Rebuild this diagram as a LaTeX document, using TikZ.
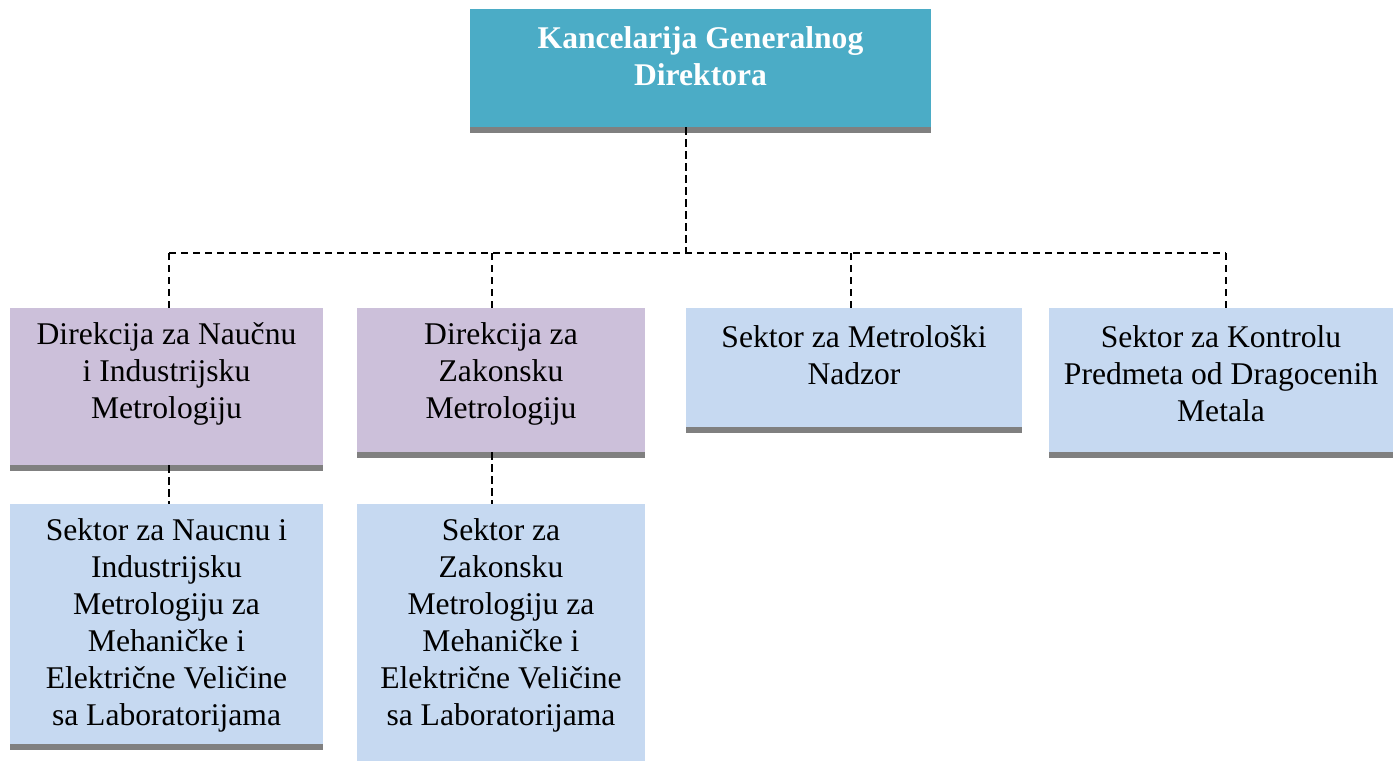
\documentclass[tikz,border=0pt]{standalone}
\usepackage{fontspec}
\setmainfont{Liberation Serif}
\usetikzlibrary{fit,shadows}

\definecolor{teal}{HTML}{4BACC6}
\definecolor{lilac}{HTML}{CCC0DA}
\definecolor{paleblue}{HTML}{C6D9F1}

\tikzset{
    unit/.style={rectangle, inner sep=0pt, draw=none},
    strip/.style={drop shadow={shadow xshift=0pt, shadow yshift=-4.5pt,
        fill=black!50, opacity=1}},
    label text/.style={align=center, inner sep=0pt,
        font=\fontsize{23.7}{27.75}\selectfont},
    link/.style={line width=1.5pt, dash pattern=on 5.5pt off 3.5pt}
}

\begin{document}
\begin{tikzpicture}[x=0.75pt, y=-0.75pt]
    \useasboundingbox (0,0) rectangle (1393,761);
    % boxes
    \node[unit, strip, fill=teal, fit={(470,9) (931,127)}] (gd) {};
    \node[unit, strip, fill=lilac, fit={(10,308) (323,465)}] (dni) {};
    \node[unit, strip, fill=lilac, fit={(357,308) (645,452)}] (dzm) {};
    \node[unit, strip, fill=paleblue, fit={(686,308) (1022,427)}] (smn) {};
    \node[unit, strip, fill=paleblue, fit={(1049,308) (1393,452)}] (skp) {};
    \node[unit, strip, fill=paleblue, fit={(10,504) (323,744)}] (sni) {};
    \node[unit, fill=paleblue, fit={(357,504) (645,761)}] (szm) {};
    % texts
    \node[label text, text=white, font=\fontsize{23.7}{27.75}\selectfont\bfseries]
        (gdt) at (700.5,56) {Kancelarija Generalnog\\Direktora};
    \node[label text] (dnit) at (166.5,374)
        {Direkcija za Naučnu\\i Industrijsku\\Metrologiju};
    \node[label text] (dzmt) at (501,374)
        {Direkcija za\\Zakonsku\\Metrologiju};
    \node[label text] (smnt) at (854,355.5)
        {Sektor za Metrološki\\Nadzor};
    \node[label text] (skpt) at (1221,374)
        {Sektor za Kontrolu\\Predmeta od Dragocenih\\Metala};
    \node[label text] (snit) at (166.5,625)
        {Sektor za Naucnu i\\Industrijsku\\Metrologiju za\\Mehaničke i\\Električne Veličine\\sa Laboratorijama};
    \node[label text] (szmt) at (501,625)
        {Sektor za\\Zakonsku\\Metrologiju za\\Mehaničke i\\Električne Veličine\\sa Laboratorijama};
    % connectors
    \coordinate (j0) at (686,253);
    \coordinate (j1) at (169,253);
    \coordinate (j2) at (492,253);
    \coordinate (j3) at (851,253);
    \coordinate (j4) at (1226,253);
    \draw[link] (j0 |- gd.south) -- (j0);
    \draw[link] (j1) -- (j4);
    \draw[link] (j1) -- (j1 |- dni.north);
    \draw[link] (j2) -- (j2 |- dzm.north);
    \draw[link] (j3) -- (j3 |- smn.north);
    \draw[link] (j4) -- (j4 |- skp.north);
    \draw[link] (j1 |- dni.south) -- (j1 |- sni.north);
    \draw[link] (j2 |- dzm.south) -- (j2 |- szm.north);
\end{tikzpicture}
\end{document}
